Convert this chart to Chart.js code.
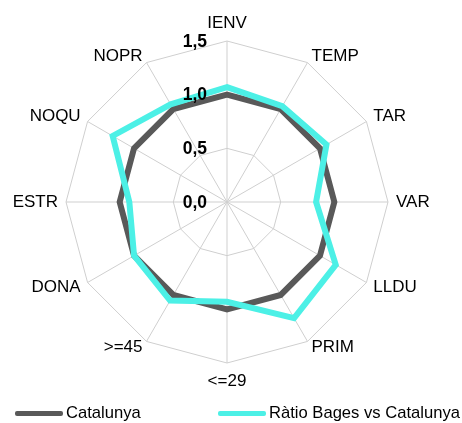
<!DOCTYPE html>
<html>
<head>
<meta charset="utf-8">
<script src="https://cdn.jsdelivr.net/npm/chart.js@4"></script>
<style>
  html, body { margin: 0; padding: 0; background: #fff; }
  #wrap { position: relative; width: 462px; height: 423px; }
  #legend { position: absolute; left: 0; top: 403px; width: 462px; height: 20px;
            font-family: "Liberation Sans", Arial, sans-serif; font-size: 16.6px; color: #000; }
  .item { position: absolute; top: 0; height: 20px; line-height: 20px; white-space: nowrap; }
  .swatch { position: absolute; top: 8px; width: 48px; height: 5px; border-radius: 2px; }
  .txt { position: absolute; top: 0; left: 51px; }
</style>
</head>
<body>
<div id="wrap">
  <canvas id="c" width="462" height="423"></canvas>
  <div id="legend"></div>
</div>
<script>
const categories = ['IENV', 'TEMP', 'TAR', 'VAR', 'LLDU', 'PRIM', '<=29', '>=45', 'DONA', 'ESTR', 'NOQU', 'NOPR'];
const catalunya = [1, 1, 1, 1, 1, 1, 1, 1, 1, 1, 1, 1];
const ratioBages = [1.07, 1.03, 1.07, 0.83, 1.17, 1.25, 0.93, 1.06, 1.00, 0.91, 1.23, 1.05];
const tickValues = [0, 0.5, 1.0, 1.5];
const seriesNames = ['Catalunya', 'Ràtio Bages vs Catalunya'];
const seriesColors = ['#595959', '#4cf0e6'];
const legendX = [15, 218];

const FONT = '"Liberation Sans", Arial, sans-serif';

// tick labels (bold, left of the vertical axis) and category labels placed beside the outer vertices
const textPlugin = {
  id: 'radarText',
  afterDatasetsDraw(chart) {
    const s = chart.scales.r;
    const ctx = chart.ctx;
    ctx.save();
    ctx.font = 'bold 17.5px ' + FONT;
    ctx.fillStyle = '#000';
    ctx.textAlign = 'right';
    ctx.textBaseline = 'middle';
    tickValues.forEach(v => {
      const y = s.yCenter - s.getDistanceFromCenterForValue(v);
      ctx.fillText(v.toFixed(1).replace('.', ','), s.xCenter - 20, y + 1);
    });

    ctx.font = '17px ' + FONT;
    const outer = s.getDistanceFromCenterForValue(s.max);
    categories.forEach((lab, i) => {
      const p = s.getPointPosition(i, outer);
      const a = s.getIndexAngle(i);
      const sn = Math.sin(a), cs = Math.cos(a);
      let align = 'center';
      if (sn > 0.01) align = 'left';
      else if (sn < -0.01) align = 'right';
      const ac = Math.abs(cs);
      const vOff = ac > 0.99 ? 18 : (ac > 0.8 ? 7 : 9.5);
      ctx.textAlign = align;
      ctx.fillText(lab, p.x + sn * 8, p.y - cs * vOff);
    });
    ctx.restore();
  }
};

new Chart(document.getElementById('c'), {
  type: 'radar',
  data: {
    labels: categories,
    datasets: [
      { label: seriesNames[0], data: catalunya, borderColor: seriesColors[0], backgroundColor: seriesColors[0],
        borderWidth: 6, pointRadius: 0, fill: false, order: 1, borderJoinStyle: 'miter' },
      { label: seriesNames[1], data: ratioBages, borderColor: seriesColors[1], backgroundColor: seriesColors[1],
        borderWidth: 6, pointRadius: 0, fill: false, order: 0, borderJoinStyle: 'miter' }
    ]
  },
  options: {
    responsive: false,
    animation: false,
    layout: { padding: { top: 41, bottom: 60, left: 66, right: 74 } },
    plugins: { legend: { display: false }, tooltip: { enabled: false } },
    scales: {
      r: {
        min: 0, max: 1.5,
        ticks: { stepSize: 0.5, display: false },
        grid: { color: '#cfcfcf', lineWidth: 1, circular: false },
        angleLines: { color: '#cfcfcf', lineWidth: 1 },
        pointLabels: { display: false }
      }
    }
  },
  plugins: [textPlugin]
});

const leg = document.getElementById('legend');
seriesNames.forEach((name, i) => {
  const it = document.createElement('div');
  it.className = 'item';
  it.style.left = legendX[i] + 'px';
  const sw = document.createElement('div');
  sw.className = 'swatch';
  sw.style.background = seriesColors[i];
  const tx = document.createElement('span');
  tx.className = 'txt';
  tx.textContent = name;
  it.appendChild(sw); it.appendChild(tx);
  leg.appendChild(it);
});
</script>
</body>
</html>
